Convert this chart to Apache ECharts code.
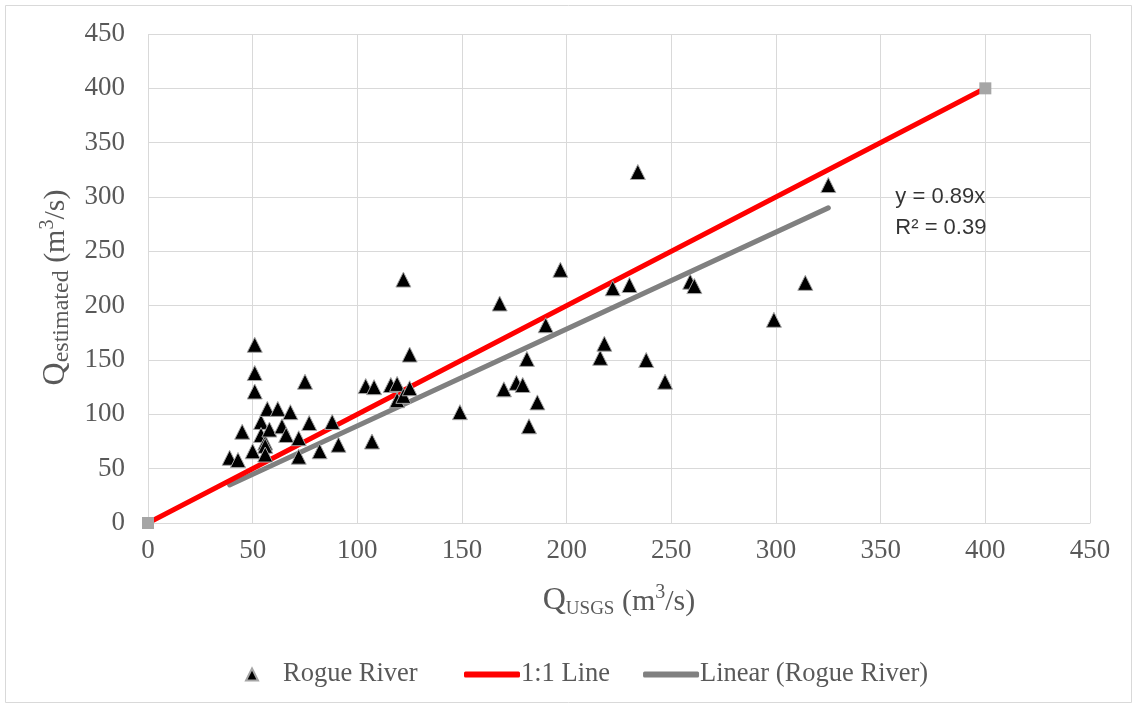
<!DOCTYPE html>
<html>
<head>
<meta charset="utf-8">
<script src="https://cdn.jsdelivr.net/npm/echarts@6/dist/echarts.min.js"></script>
<style>html,body{margin:0;padding:0;background:#fff}#c{width:1138px;height:709px}</style>
</head>
<body>
<div id="c"></div>
<script>
// Observed data: [Q_USGS, Q_estimated] (m3/s)
const rogueRiver = [
  [39,60],[43,58],[45,84],[50,66],[51,164],[51,138],[51,121],[54,93],[54,81],[56,74],
  [56,71],[56,63],[57,105],[58,86],[62,105],[64,89],[66,81],[68,102],[72,78],[72,61],
  [75,130],[77,92],[82,66],[88,93],[91,72],[104,126],[107,75],[108,125],[116,127],[119,128],
  [119,113],[122,117],[122,224],[125,124],[125,155],[149,102],[168,202],[170,123],[176,129],[179,127],
  [181,151],[182,89],[186,111],[190,182],[197,233],[216,152],[218,165],[222,216],[230,219],[234,323],
  [238,150],[247,130],[259,222],[261,218],[299,187],[314,221],[325,311]
];
const oneToOne = [[0,0],[400,400]];
const trendLine = [[39,35],[325,290]];
const equationPos = [[357,286]];
const equationText = 'y = 0.89x\nR² = 0.39';
const axisTicks = [0,50,100,150,200,250,300,350,400,450];

const serif = '"Liberation Serif","Times New Roman",serif';
const txt = '#595959';
const gridCol = '#d9d9d9';

function titleRich(subSize) {
  return {
    q: {fontFamily: serif, fontSize: 32, color: txt, lineHeight: 36, verticalAlign: 'bottom'},
    n: {fontFamily: serif, fontSize: 30, color: txt, lineHeight: 36, verticalAlign: 'bottom'},
    sub: {fontFamily: serif, fontSize: subSize, color: txt, lineHeight: 20, verticalAlign: 'bottom', padding: [0,0,-2,0]},
    sup: {fontFamily: serif, fontSize: 20, color: txt, lineHeight: 20, verticalAlign: 'top', padding: [2,0,0,0]}
  };
}

const chart = echarts.init(document.getElementById('c'));
chart.setOption({
  backgroundColor: '#fff',
  animation: false,
  graphic: [{
    type: 'rect', shape: {x: 5.5, y: 5.5, width: 1126, height: 697},
    style: {fill: 'none', stroke: gridCol, lineWidth: 1}, silent: true
  }],
  grid: {left: 148, right: 48, top: 34, bottom: 186},
  legend: [{
    data: [{name: 'Rogue River', icon: 'triangle', itemStyle: {color: '#000'}}],
    left: 240, top: 656, itemWidth: 12, itemHeight: 12,
    textStyle: {fontFamily: serif, fontSize: 26.5, color: txt, padding: [0,0,0,20]}
  }, {
    data: [
      {name: '1:1 Line', icon: 'roundRect', itemStyle: {color: '#ff0000'}},
      {name: 'Linear (Rogue River)', icon: 'roundRect', itemStyle: {color: '#808080'}}
    ],
    left: 459, top: 656, itemWidth: 56, itemHeight: 6, itemGap: 33,
    textStyle: {fontFamily: serif, fontSize: 26.5, color: txt, padding: [0,0,0,-4]}
  }],
  xAxis: {
    type: 'value', min: axisTicks[0], max: axisTicks[axisTicks.length-1], interval: 50,
    axisLine: {show: true, lineStyle: {color: gridCol, width: 1}},
    axisTick: {show: false},
    splitLine: {show: true, lineStyle: {color: gridCol, width: 1}},
    axisLabel: {fontFamily: serif, fontSize: 27, color: txt, margin: 14},
    name: '{q|Q}{sub|USGS}{n| (m}{sup|3}{n|/s)}',
    nameLocation: 'middle', nameGap: 58,
    nameTextStyle: {rich: titleRich(19)}
  },
  yAxis: {
    type: 'value', min: axisTicks[0], max: axisTicks[axisTicks.length-1], interval: 50,
    axisLine: {show: false},
    axisTick: {show: false},
    splitLine: {show: true, lineStyle: {color: gridCol, width: 1}},
    axisLabel: {fontFamily: serif, fontSize: 27, color: txt, margin: 23},
    name: '{q|Q}{sub|estimated}{n| (m}{sup|3}{n|/s)}',
    nameLocation: 'middle', nameGap: 64, nameRotate: 90,
    nameTextStyle: {rich: titleRich(24), padding: [0, 18, 0, 0]}
  },
  series: [{
    name: 'Linear (Rogue River)', type: 'line', data: trendLine,
    symbol: 'none', lineStyle: {color: '#808080', width: 5, cap: 'round'},
    itemStyle: {color: '#808080'}, z: 2
  }, {
    name: '1:1 Line', type: 'line', data: oneToOne,
    symbol: 'rect', symbolSize: 12, showAllSymbol: true,
    itemStyle: {color: '#a5a5a5'},
    lineStyle: {color: '#ff0000', width: 5, cap: 'round'}, z: 3
  }, {
    name: 'Rogue River', type: 'scatter', data: rogueRiver,
    symbol: 'triangle', symbolSize: 15,
    itemStyle: {color: '#000', opacity: 1, borderColor: '#a6a6a6', borderWidth: 1}, z: 4
  }, {
    name: 'eq', type: 'scatter', data: equationPos, symbolSize: 0, silent: true,
    label: {
      show: true, position: 'right', distance: 0, formatter: equationText,
      fontFamily: '"Liberation Sans",Arial,sans-serif', fontSize: 22, lineHeight: 31,
      color: '#000', align: 'left', verticalAlign: 'middle'
    }
  }]
});
</script>
</body>
</html>
